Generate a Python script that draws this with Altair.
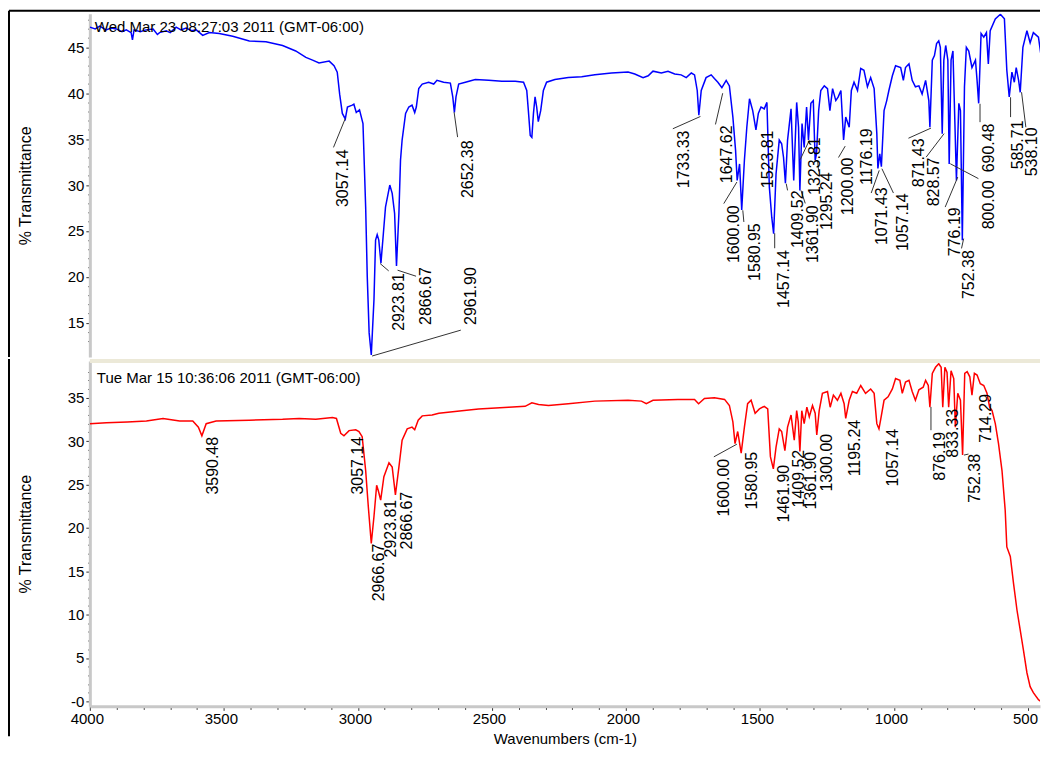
import altair as alt
import pandas as pd

FONT = "Liberation Sans"

# ---------------- top spectrum (blue) ----------------
top_wn = [4000, 3980, 3963, 3940, 3920, 3901, 3880, 3864, 3846, 3841,
          3835, 3812, 3790, 3764, 3748, 3740, 3715, 3700, 3678, 3660,
          3641, 3620, 3603, 3579, 3554, 3517, 3467, 3405, 3343, 3281,
          3232, 3194, 3169, 3145, 3107, 3089, 3077, 3068, 3058, 3047,
          3039, 3021, 3015, 3006, 2994, 2981, 2971, 2965, 2958, 2950,
          2940, 2934, 2928, 2922, 2914, 2905, 2897, 2887, 2881, 2872,
          2863, 2856, 2847, 2841, 2835, 2822, 2810, 2798, 2788, 2782,
          2773, 2760, 2736, 2717, 2705, 2680, 2655, 2646, 2640, 2634,
          2624, 2599, 2562, 2512, 2463, 2413, 2382, 2370, 2364, 2357,
          2351, 2345, 2339, 2333, 2327, 2318, 2308, 2296, 2265, 2215,
          2165, 2116, 2054, 1992, 1967, 1936, 1917, 1899, 1868, 1843,
          1818, 1794, 1775, 1756, 1744, 1734, 1728, 1719, 1701, 1682,
          1670, 1657, 1642, 1626, 1614, 1601, 1591, 1585, 1576, 1568,
          1558, 1549, 1539, 1527, 1515, 1506, 1496, 1484, 1474, 1465,
          1456, 1449, 1440, 1428, 1419, 1412, 1405, 1397, 1384, 1374,
          1363, 1356, 1351, 1343, 1335, 1326, 1319, 1310, 1301, 1294,
          1289, 1281, 1273, 1260, 1248, 1239, 1229, 1217, 1208, 1198,
          1188, 1180, 1167, 1159, 1149, 1136, 1124, 1112, 1099, 1087,
          1074, 1064, 1060, 1053, 1047, 1037, 1027, 1019, 1006, 994,
          975, 965, 957, 944, 932, 920, 907, 895, 882, 870,
          866, 857, 849, 841, 833, 827, 820, 814, 807, 799,
          794, 787, 780, 775, 767, 758, 752, 745, 737, 730,
          721, 709, 696, 690, 684, 675, 665, 655, 648, 641,
          622, 603, 588, 579, 570, 560, 551, 544, 535, 529,
          519, 504, 492, 480, 461, 448, 436, 431]
top_t = [47.2, 47.0, 47.3, 46.9, 47.1, 47.0, 46.7, 46.9, 46.6, 45.8,
         46.9, 46.7, 46.9, 47.0, 46.4, 46.6, 46.8, 46.6, 47.2, 46.9,
         47.1, 46.8, 46.9, 46.3, 46.6, 46.5, 46.2, 45.7, 45.6, 45.2,
         44.6, 43.9, 43.6, 43.3, 43.5, 43.0, 42.3, 39.9, 37.8, 37.2,
         38.5, 38.7, 38.8, 37.9, 38.2, 36.7, 27.6, 20.0, 13.9, 11.5,
         17.5, 24.0, 24.6, 24.0, 21.5, 24.7, 27.6, 29.1, 30.0, 29.1,
         26.9, 21.2, 26.9, 32.7, 34.9, 37.8, 38.5, 38.7, 37.9, 38.5,
         40.5, 41.0, 41.2, 41.0, 41.4, 41.2, 41.1, 39.6, 37.9, 39.6,
         41.0, 41.2, 41.5, 41.4, 41.3, 41.3, 41.2, 40.3, 38.1, 35.4,
         35.2, 37.8, 39.6, 38.5, 36.9, 38.1, 40.3, 41.2, 41.5, 41.7,
         41.8, 42.0, 42.2, 42.3, 42.1, 41.7, 41.9, 42.4, 42.2, 42.4,
         42.1, 42.0, 41.7, 42.2, 42.0, 40.3, 37.6, 40.3, 41.7, 42.0,
         41.6, 41.2, 40.6, 41.4, 40.8, 37.4, 33.8, 30.5, 32.3, 27.3,
         32.7, 36.3, 39.4, 38.1, 36.0, 37.8, 38.5, 38.3, 39.0, 29.8,
         26.5, 24.7, 31.2, 34.9, 34.5, 33.0, 30.2, 34.9, 38.3, 30.5,
         39.0, 36.3, 29.4, 36.7, 34.1, 38.5, 34.9, 38.9, 39.2, 32.7,
         33.4, 38.1, 40.3, 40.8, 40.5, 38.1, 40.5, 39.2, 39.6, 40.3,
         34.9, 37.4, 36.3, 40.3, 41.2, 40.3, 42.7, 42.5, 40.7, 41.7,
         40.5, 35.6, 31.8, 33.4, 32.0, 38.1, 39.2, 40.3, 41.9, 43.0,
         42.8, 41.4, 42.8, 43.2, 41.4, 40.7, 40.8, 39.9, 41.4, 39.2,
         36.3, 43.6, 44.1, 45.4, 45.7, 45.0, 35.6, 43.6, 45.2, 43.6,
         32.3, 43.6, 44.6, 39.2, 30.5, 38.9, 38.1, 24.0, 40.7, 45.0,
         44.6, 42.8, 43.6, 41.4, 38.9, 46.5, 46.1, 46.6, 43.2, 46.8,
         48.1, 48.6, 48.1, 42.5, 39.6, 42.3, 41.2, 42.8, 41.4, 40.1,
         45.0, 46.8, 45.5, 46.6, 46.1, 43.4, 39.6, 39.0]

# ---------------- bottom spectrum (red) ----------------
bot_wn = [4000, 3938, 3860, 3789, 3727, 3665, 3616, 3595, 3582, 3566,
          3529, 3405, 3281, 3219, 3157, 3095, 3080, 3064, 3052, 3033,
          3008, 2996, 2984, 2971, 2961, 2950, 2940, 2930, 2924, 2915,
          2903, 2884, 2872, 2860, 2847, 2835, 2816, 2798, 2788, 2775,
          2760, 2723, 2698, 2612, 2550, 2438, 2376, 2351, 2326, 2289,
          2215, 2116, 1992, 1942, 1924, 1899, 1806, 1744, 1729, 1707,
          1670, 1632, 1614, 1601, 1593, 1583, 1570, 1558, 1546, 1533,
          1518, 1502, 1484, 1471, 1461, 1450, 1440, 1428, 1419, 1407,
          1397, 1384, 1372, 1363, 1357, 1351, 1344, 1335, 1325, 1316,
          1304, 1294, 1288, 1279, 1267, 1248, 1238, 1226, 1211, 1198,
          1186, 1180, 1167, 1155, 1139, 1124, 1106, 1087, 1074, 1064,
          1056, 1050, 1037, 1022, 1006, 994, 978, 969, 957, 944,
          932, 920, 907, 891, 882, 872, 866, 857, 845, 833,
          824, 818, 810, 802, 796, 787, 777, 771, 762, 752,
          744, 736, 727, 717, 709, 700, 690, 678, 665, 653,
          643, 634, 622, 610, 597, 585, 579, 566, 554, 541,
          529, 517, 504, 492, 480, 461, 436, 430]
bot_t = [32.0, 32.1, 32.2, 32.3, 32.6, 32.3, 32.3, 31.6, 30.6, 32.0,
         32.3, 32.4, 32.5, 32.6, 32.5, 32.7, 32.6, 30.9, 30.6, 31.2,
         31.3, 31.1, 30.5, 26.6, 22.4, 18.2, 21.3, 24.9, 24.3, 23.2,
         25.9, 27.5, 27.0, 23.8, 27.0, 30.1, 31.4, 31.6, 31.3, 32.4,
         32.9, 33.0, 33.2, 33.5, 33.7, 33.9, 34.0, 34.4, 34.2, 34.1,
         34.3, 34.6, 34.7, 34.6, 34.3, 34.7, 34.8, 34.8, 34.3, 34.9,
         35.0, 34.8, 34.1, 32.2, 29.7, 31.1, 28.6, 31.6, 34.3, 34.7,
         33.2, 33.7, 34.0, 33.7, 28.2, 26.8, 29.3, 31.4, 31.1, 28.9,
         31.6, 33.0, 30.1, 33.5, 32.2, 28.8, 33.5, 32.0, 33.9, 32.8,
         34.1, 33.2, 30.7, 33.5, 35.5, 35.7, 33.9, 35.3, 34.7, 35.5,
         34.3, 32.6, 34.7, 35.7, 35.5, 36.4, 35.5, 36.0, 35.5, 32.0,
         31.4, 32.4, 34.7, 35.1, 36.0, 37.2, 37.0, 35.5, 36.8, 37.0,
         35.7, 34.7, 35.9, 36.2, 37.0, 36.4, 33.9, 37.8, 38.5, 38.9,
         38.5, 33.9, 38.5, 37.9, 33.9, 38.1, 37.2, 31.6, 35.5, 34.7,
         28.4, 37.8, 38.0, 37.4, 35.3, 37.8, 37.6, 36.6, 36.4, 35.5,
         33.9, 33.5, 32.0, 29.7, 26.6, 22.0, 17.8, 16.7, 13.6, 10.5,
         8.2, 5.9, 3.3, 1.7, 1.0, 0.2, -0.4, -0.45]

# ---------------- peak annotations ----------------
top_labels = ["3057.14", "2923.81", "2866.67", "2961.90", "2652.38", "1733.33",
              "1647.62", "1600.00", "1580.95", "1523.81", "1457.14", "1409.52",
              "1361.90", "1323.81", "1295.24", "1200.00", "1176.19", "1071.43",
              "1057.14", "871.43", "828.57", "800.00", "690.48", "776.19",
              "752.38", "585.71", "538.10"]
top_label_wn = [3054, 2845, 2746, 2578, 2591, 1784,
                1623, 1598, 1520, 1471, 1409, 1359,
                1302, 1296, 1250, 1173, 1102, 1043,
                968, 906, 850, 646, 646, 772,
                720, 537, 486]
top_label_t = [33.88, 20.40, 21.05, 21.05, 34.86, 35.94,
               36.49, 27.79, 25.84, 35.94, 22.90, 29.42,
               27.79, 35.20, 31.38, 33.00, 36.16, 29.75,
               29.09, 35.08, 33.00, 30.50, 36.70, 27.57,
               22.90, 37.03, 36.27]

top_lead_wn = [3047, 2917, 2852, 2947, 2641, 1722, 1639, 1586, 1564, 1445,
               1402, 1347, 1316, 1285, 1182, 1055, 1045, 862, 813, 790,
               679, 762, 740, 565, 524]
top_lead_t = [37.25, 21.45, 20.73, 11.38, 37.93, 37.47, 40.00, 30.33, 27.25, 24.75,
              30.15, 29.42, 34.86, 32.68, 34.24, 31.60, 31.78, 36.20, 35.60, 32.32,
              38.85, 30.87, 24.17, 39.56, 40.11]
top_lead_wn2 = [3091, 2885, 2783, 2616, 2628, 1825, 1666, 1635, 1560, 1445,
                1397, 1331, 1350, 1281, 1207, 1085, 1002, 946, 880, 685,
                679, 809, 748, 565, 508]
top_lead_t2 = [34.10, 20.65, 20.07, 14.20, 35.22, 36.13, 36.60, 27.98, 25.98, 23.12,
               29.42, 28.00, 32.76, 31.48, 33.00, 29.13, 29.13, 35.10, 33.04, 30.70,
               36.85, 27.60, 23.10, 37.40, 36.30]

bot_labels = ["3590.48", "3057.14", "2966.67", "2923.81", "2866.67", "1600.00",
              "1580.95", "1461.90", "1409.52", "1361.90", "1300.00", "1195.24",
              "1057.14", "876.19", "833.33", "752.38", "714.29"]
bot_label_wn = [3541, 3001, 2920, 2876, 2815, 1635,
                1530, 1412, 1356, 1310, 1248, 1144,
                1002, 828, 778, 698, 658]
bot_label_t = [30.48, 30.48, 18.17, 23.23, 24.15, 27.95,
               28.76, 27.26, 28.99, 28.76, 30.83, 32.44,
               31.40, 31.06, 33.70, 28.52, 35.43]

bot_lead_wn = [1586, 862, 739]
bot_lead_t = [29.64, 33.93, 28.38]
bot_lead_wn2 = [1672, 862, 722]
bot_lead_t2 = [28.18, 31.25, 28.50]

top_stamp = "Wed Mar 23 08:27:03 2011 (GMT-06:00)"
bot_stamp = "Tue Mar 15 10:36:06 2011 (GMT-06:00)"

W, H_TOP, H_BOT = 952, 344, 346

xs = alt.Scale(domain=[4000, 455.2], nice=False, zero=False)
ys_top = alt.Scale(domain=[11.27, 48.66], nice=False, zero=False)
ys_bot = alt.Scale(domain=[-0.575, 39.22], nice=False, zero=False)

axis_common = dict(grid=False, domainColor="#c8c8c8", domainWidth=3,
                   tickColor="#333333", tickWidth=1, labelFont=FONT,
                   labelFontSize=15, labelColor="#000000", labelOverlap=False,
                   titleFont=FONT, titleFontWeight="normal", titleColor="#000000")

y_axis_top = alt.Axis(values=list(range(13, 49)), format="d",
                      labelExpr="datum.value % 5 === 0 ? datum.label : ''",
                      tickSize={"condition": {"test": "datum.value % 5 === 0", "value": 4}, "value": 2},
                      labelPadding=2, title="% Transmittance", titleFontSize=16,
                      titlePadding=34, **axis_common)
y_axis_bot = alt.Axis(values=list(range(0, 39)), format="d",
                      labelExpr="datum.value === 0 ? '-0' : (datum.value % 5 === 0 ? datum.label : '')",
                      tickSize={"condition": {"test": "datum.value % 5 === 0", "value": 4}, "value": 2},
                      labelPadding=2, title="% Transmittance", titleFontSize=16,
                      titlePadding=34, **axis_common)
x_axis_bot = alt.Axis(values=list(range(4000, 499, -100)), format="d",
                      labelExpr="datum.value % 500 === 0 ? datum.label : ''",
                      tickSize={"condition": {"test": "datum.value % 500 === 0", "value": 4}, "value": 3},
                      labelPadding=1, labelFlush=False, labelOffset=-3,
                      title="Wavenumbers (cm-1)", titleFontSize=15, titlePadding=5,
                      **axis_common)

one = pd.DataFrame({"a": [0]})


def panel(wn, t, color, labels, lab_wn, lab_t, lw, lt, lw2, lt2,
          stamp, stamp_x, stamp_y, ys, yaxis, xaxis, h, top_frame):
    X = alt.X("wn:Q", scale=xs, axis=xaxis)
    Y = alt.Y("t:Q", scale=ys, axis=yaxis)
    line = alt.Chart(pd.DataFrame({"wn": wn, "t": t})).mark_line(
        color=color, strokeWidth=1.5, clip=True).encode(x=X, y=Y)
    lead = alt.Chart(pd.DataFrame({"wn": lw, "t": lt, "wn2": lw2, "t2": lt2})).mark_rule(
        color="#333333", strokeWidth=1).encode(x=X, y=Y, x2="wn2:Q", y2="t2:Q")
    text = alt.Chart(pd.DataFrame({"wn": lab_wn, "t": lab_t, "label": labels})).mark_text(
        angle=270, align="right", baseline="middle", font=FONT, fontSize=16,
        color="#000000").encode(x=X, y=Y, text="label:N")
    st = alt.Chart(pd.DataFrame({"s": [stamp]})).mark_text(
        align="left", baseline="alphabetic", font=FONT, fontSize=15,
        color="#000000").encode(x=alt.value(stamp_x), y=alt.value(stamp_y), text="s:N")
    layers = [line, lead, text, st]
    if top_frame:
        layers.append(alt.Chart(one).mark_rule(color="#000000", strokeWidth=2).encode(
            x=alt.value(-81), x2=alt.value(W), y=alt.value(-3)))
        layers.append(alt.Chart(one).mark_rule(color="#000000", strokeWidth=2).encode(
            x=alt.value(-81), y=alt.value(-3), y2=alt.value(h)))
    else:
        layers.append(alt.Chart(one).mark_rule(color="#ece9d8", strokeWidth=4).encode(
            x=alt.value(0), x2=alt.value(W), y=alt.value(0)))
        layers.append(alt.Chart(one).mark_rule(color="#000000", strokeWidth=2).encode(
            x=alt.value(-81), y=alt.value(-2), y2=alt.value(h + 30)))
    return alt.layer(*layers).properties(width=W, height=h)


top = panel(top_wn, top_t, "#0000ff", top_labels, top_label_wn, top_label_t,
            top_lead_wn, top_lead_t, top_lead_wn2, top_lead_t2,
            top_stamp, 5, 18, ys_top, y_axis_top, None, H_TOP, True)
bottom = panel(bot_wn, bot_t, "#ff0000", bot_labels, bot_label_wn, bot_label_t,
               bot_lead_wn, bot_lead_t, bot_lead_wn2, bot_lead_t2,
               bot_stamp, 7, 22, ys_bot, y_axis_bot, x_axis_bot, H_BOT, False)

chart = alt.vconcat(top, bottom, spacing=0).properties(
    padding={"left": 0, "top": 1, "right": 0, "bottom": 0},
    background="#ffffff",
).configure_view(stroke=None)

chart.save("out.html", embed_options={"renderer": "svg", "actions": False})
